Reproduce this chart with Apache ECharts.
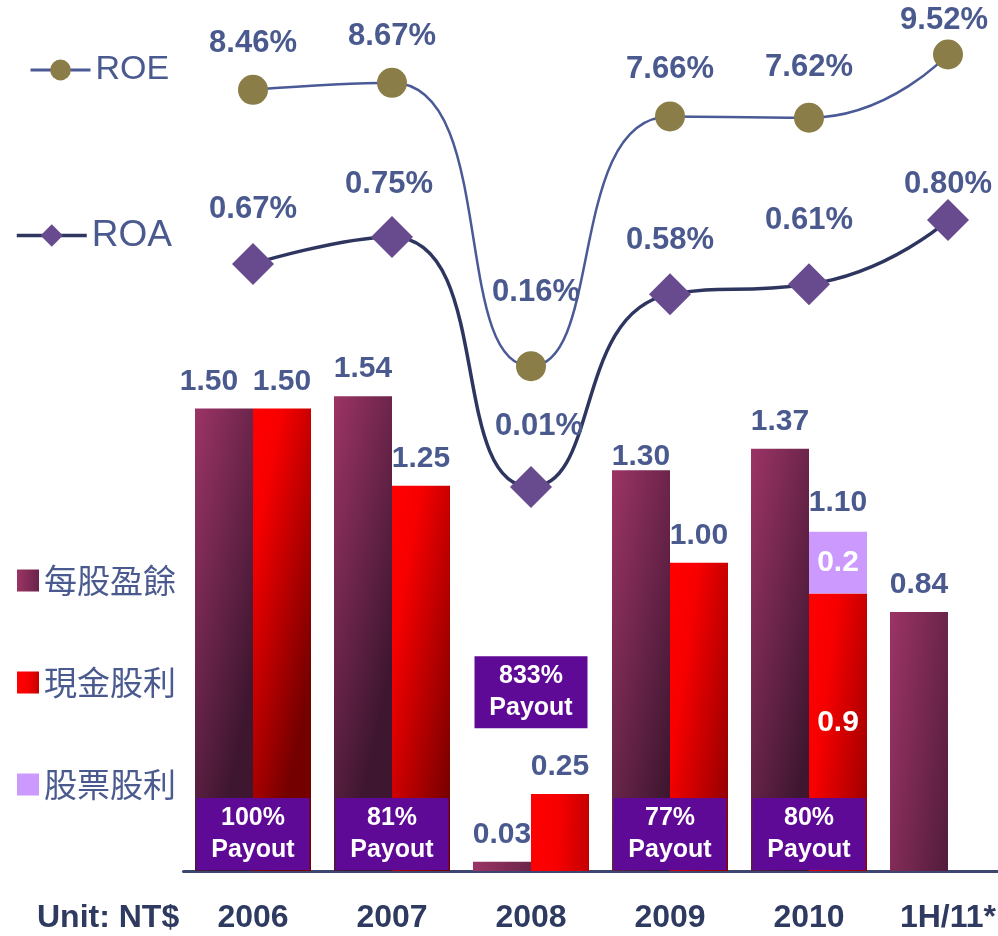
<!DOCTYPE html>
<html>
<head>
<meta charset="utf-8">
<script src="https://cdn.jsdelivr.net/npm/echarts@6/dist/echarts.min.js"></script>
<style>
  html, body { margin: 0; padding: 0; background: #fff; }
  #chart { width: 998px; height: 936px; }
</style>
</head>
<body>
<div id="chart"></div>
<script>
const categories = ['2006', '2007', '2008', '2009', '2010', '1H/11*'];
const eps = [1.50, 1.54, 0.03, 1.30, 1.37, 0.84];
const cashDividend = [1.50, 1.25, 0.25, 1.00, 0.9, null];
const stockDividend = [null, null, null, null, 0.2, null];
const roe = [8.46, 8.67, 0.16, 7.66, 7.62, 9.52];
const roa = [0.67, 0.75, 0.01, 0.58, 0.61, 0.80];
const payoutRatio = ['100%', '81%', '833%', '77%', '80%', null];
// height (in EPS units) where each payout box sits
const payoutLevel = [0.12, 0.12, 0.58, 0.12, 0.12, null];

const TXT = '#4a5a8e';
const FONT = '"Liberation Sans", Arial, sans-serif';

const epsColor = new echarts.graphic.LinearGradient(0, 0, 1.9, 0.05, [
  { offset: 0, color: '#9c3466' },
  { offset: 1, color: '#3e1630' }
]);
const cashColor = new echarts.graphic.LinearGradient(0, 0, 1.9, 0.05, [
  { offset: 0, color: '#ff0000' },
  { offset: 0.25, color: '#f80000' },
  { offset: 1, color: '#740000' }
]);

// small label nudges so numbers clear the curves
const roeNudge = [[0, 0], [0, 0], [5, -27], [0, 0], [0, -4], [-4, 12]];
const roaNudge = [[0, 0], [-3, 2], [8, -6], [0, 1], [0, -9], [0, 19]];
const epsNudge = [[-15, 0], [0, 0], [0, 0], [0, 14], [0, 0], [0, 0]];

const labelBase = { color: TXT, fontFamily: FONT, fontWeight: 'bold' };

const chart = echarts.init(document.getElementById('chart'));

const option = {
  animation: false,
  backgroundColor: '#fff',
  grid: { left: 183.5, width: 834, top: 0, height: 871, outerBoundsMode: 'none', containLabel: false },
  legend: [
    {
      data: ['ROE'], left: 24, top: 48, itemWidth: 60, itemHeight: 26, itemGap: 10,
      lineStyle: { width: 3 },
      textStyle: { color: TXT, fontFamily: FONT, fontSize: 34 }
    },
    {
      data: ['ROA'], left: 10, top: 212, itemWidth: 70, itemHeight: 28, itemGap: 10,
      lineStyle: { width: 3.5 },
      textStyle: { color: TXT, fontFamily: FONT, fontSize: 37 }
    },
    {
      data: ['每股盈餘', '現金股利', '股票股利'], orient: 'vertical', left: 12, top: 559,
      itemWidth: 22, itemHeight: 22, itemGap: 69, icon: 'rect',
      textStyle: { color: TXT, fontFamily: '"Noto Sans CJK TC", sans-serif', fontSize: 33 }
    }
  ],
  graphic: [{
    type: 'text', left: 37, top: 902,
    style: { text: 'Unit: NT$', fill: '#2f3a60', fontSize: 32, fontWeight: 'bold', fontFamily: FONT }
  }],
  xAxis: {
    type: 'category', data: categories,
    axisTick: { show: false },
    axisLine: { lineStyle: { color: '#3c4670', width: 3 } },
    axisLabel: {
      interval: 0, margin: 31, color: '#2f3a60', fontSize: 32, fontWeight: 'bold', fontFamily: FONT
    }
  },
  yAxis: [
    { type: 'value', min: 0, max: 871 / 308.3, show: false, splitLine: { show: false } },
    { type: 'value', min: (371.5 - 871) / 33.3, max: 371.5 / 33.3, show: false, splitLine: { show: false } },
    { type: 'value', min: (490.4 - 871) / 338, max: 490.4 / 338, show: false, splitLine: { show: false } }
  ],
  series: [
    {
      name: '每股盈餘', type: 'bar', yAxisIndex: 0, barWidth: 58, barGap: '0%',
      itemStyle: { color: epsColor },
      data: eps.map((v, i) => ({
        value: v,
        label: { offset: epsNudge[i] }
      })),
      label: { show: true, position: 'top', distance: 12, fontSize: 30, ...labelBase,
        formatter: p => p.value.toFixed(2) }
    },
    {
      name: '現金股利', type: 'bar', yAxisIndex: 0, barWidth: 58, stack: 'div',
      itemStyle: { color: cashColor },
      data: cashDividend.map((v, i) => {
        if (v == null) return null;
        if (stockDividend[i] != null) {
          return { value: v, label: { position: 'inside', color: '#fff', offset: [0, -10],
            formatter: p => p.value.toFixed(1) } };
        }
        return v;
      }),
      label: { show: true, position: 'top', distance: 12, fontSize: 30, ...labelBase,
        formatter: p => p.value.toFixed(2) }
    },
    {
      name: '股票股利', type: 'bar', yAxisIndex: 0, barWidth: 58, stack: 'div',
      itemStyle: { color: '#cc99ff' },
      data: stockDividend,
      label: { show: true, position: 'inside', fontSize: 30, ...labelBase, color: '#fff',
        formatter: p => p.value.toFixed(1) }
    },
    {
      name: 'total', type: 'bar', yAxisIndex: 0, barWidth: 58, stack: 'div',
      itemStyle: { color: 'transparent' },
      data: stockDividend.map(v => (v == null ? null : 0)),
      label: { show: true, position: 'top', distance: 14, fontSize: 30, ...labelBase,
        formatter: p => (cashDividend[p.dataIndex] + stockDividend[p.dataIndex]).toFixed(2) }
    },
    {
      name: 'ROE', type: 'line', yAxisIndex: 1, smooth: 0.55,
      symbol: 'circle', symbolSize: 30, z: 4,
      lineStyle: { color: '#4a5a96', width: 2.5 },
      itemStyle: { color: '#8b7d47' },
      data: roe.map((v, i) => ({ value: v, label: { offset: roeNudge[i] } })),
      label: { show: true, position: 'top', distance: 16, fontSize: 31, ...labelBase,
        formatter: p => p.value.toFixed(2) + '%' }
    },
    {
      name: 'ROA', type: 'line', yAxisIndex: 2, smooth: 0.55,
      symbol: 'diamond', symbolSize: 42, z: 4,
      lineStyle: { color: '#2e3660', width: 3.5 },
      itemStyle: { color: '#684a8e' },
      data: roa.map((v, i) => ({ value: v, label: { offset: roaNudge[i] } })),
      label: { show: true, position: 'top', distance: 18, fontSize: 31, ...labelBase,
        formatter: p => p.value.toFixed(2) + '%' }
    },
    {
      name: 'payout', type: 'scatter', yAxisIndex: 0, z: 5,
      symbol: 'rect', symbolSize: [113, 72],
      itemStyle: { color: '#5e0a96', opacity: 1 },
      data: payoutLevel.map((v, i) => (v == null ? null : { value: [i, v], ratio: payoutRatio[i] })),
      label: { show: true, position: 'inside', color: '#fff', fontFamily: FONT,
        fontWeight: 'bold', fontSize: 25, lineHeight: 32,
        formatter: p => p.data.ratio + '\nPayout' }
    }
  ]
};

chart.setOption(option);
</script>
</body>
</html>
